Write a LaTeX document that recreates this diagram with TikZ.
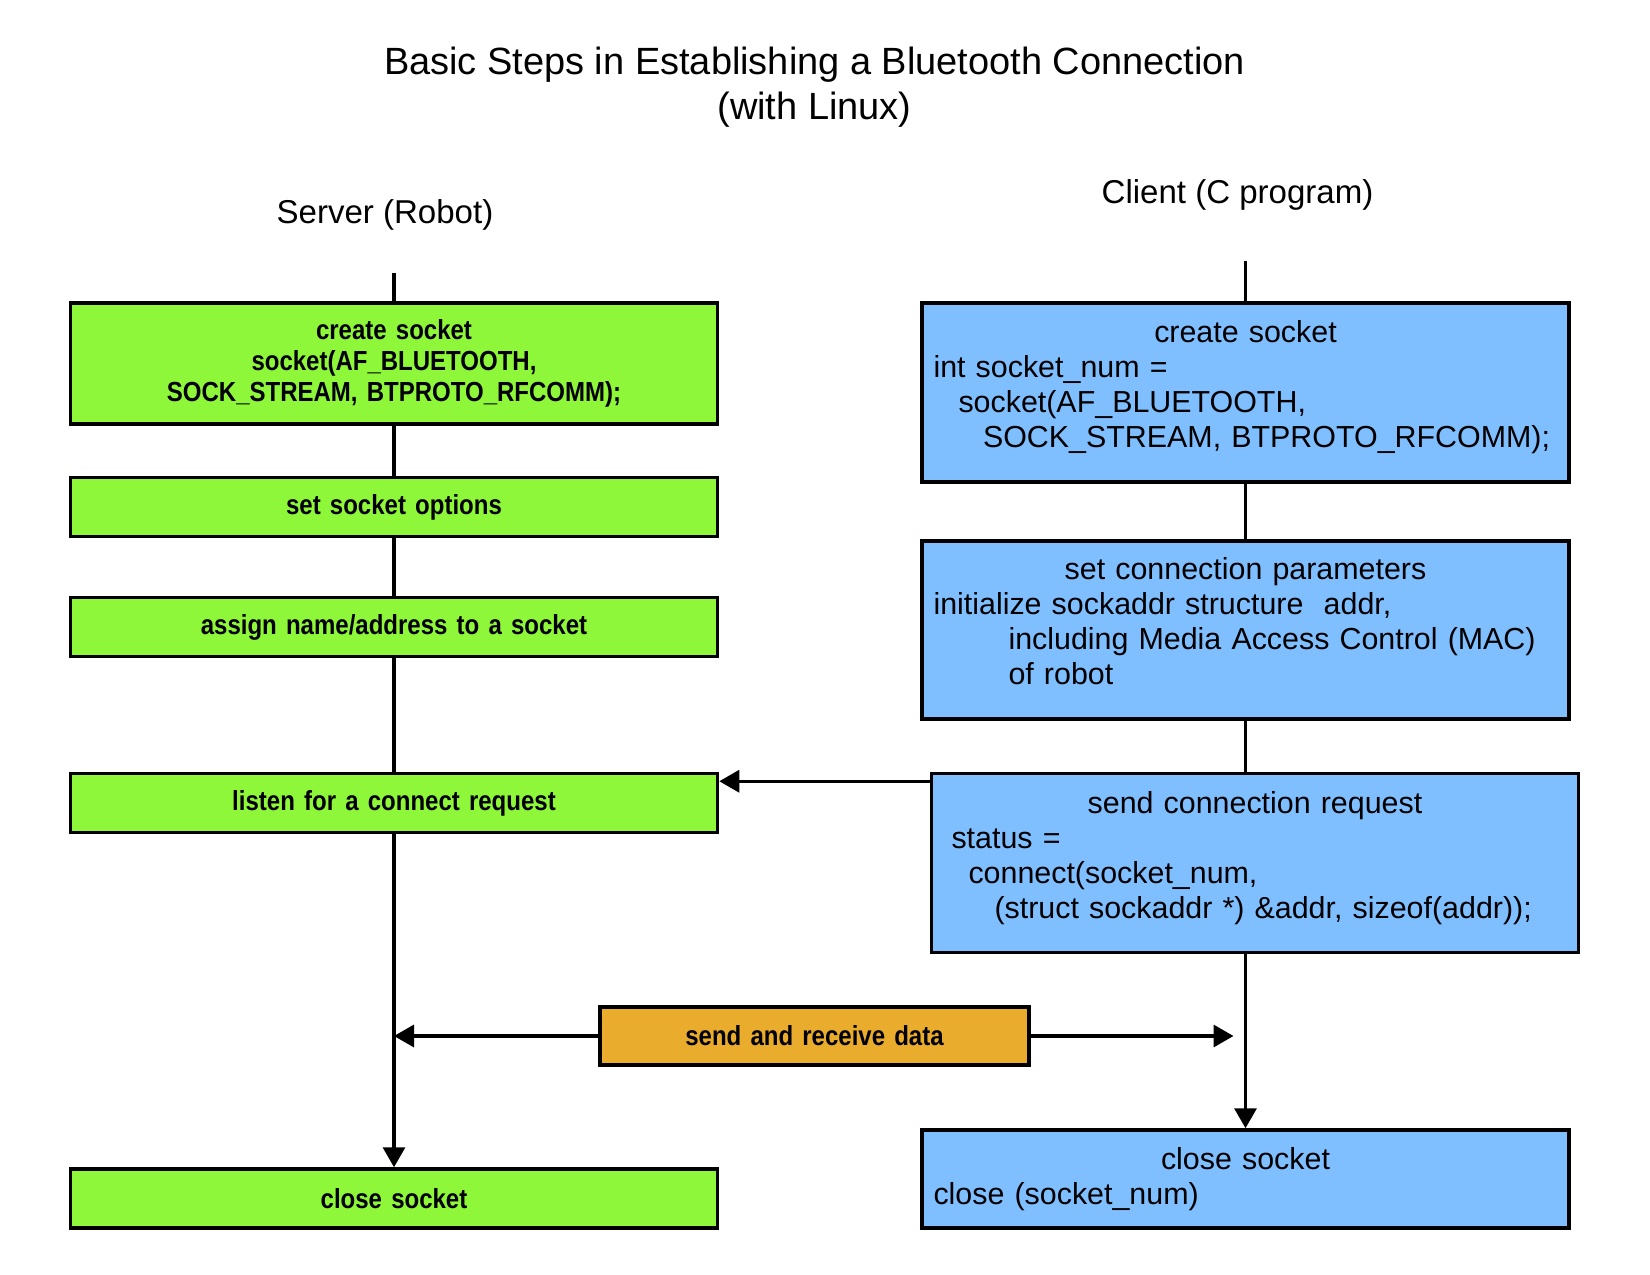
\documentclass[tikz,border=0pt]{standalone}
\usepackage{fontspec}
\setmainfont{Liberation Sans}
\newfontfamily\narrowfont[FakeStretch=0.87]{Liberation Sans}
\usetikzlibrary{arrows.meta}
\definecolor{srvgreen}{RGB}{143,247,58}
\definecolor{cliblue}{RGB}{128,191,255}
\definecolor{dataorange}{RGB}{234,172,44}
\newcommand{\headline}[1]{\parindent=0pt{\centering #1\par}\raggedright}
\newcommand{\bottomgap}[1]{\par\vspace*{#1}\hrule height 0pt}
\tikzset{
	greenbox/.style={draw, line width=2pt, fill=srvgreen, text width=12.5cm, inner xsep=0.22cm,
		align=center, minimum height=1.18cm, font=\narrowfont\bfseries\fontsize{15.7}{17.6}\selectfont},
	orangebox/.style={greenbox, fill=dataorange, text width=8.14cm, minimum height=1.16cm},
	bluebox/.style={draw, line width=2pt, fill=cliblue, text width=12.48cm, inner xsep=0.23cm,
		minimum height=3.58cm, font=\fontsize{17.3}{20}\selectfont},
	conn/.style={line width=1.9pt},
	arr/.style={line width=1.9pt, -{Triangle[length=0.4cm,width=0.44cm]}}
}
\begin{document}
\begin{tikzpicture}
	\useasboundingbox (0,0) rectangle (33,-25.5);
	% titles
	\node[align=center, font=\fontsize{21.6}{25.6}\selectfont] (title) at (16.29,-1.75)
		{Basic Steps in Establishing a Bluetooth Connection\\(with Linux)};
	\node[font=\fontsize{18.8}{22}\selectfont] (server) at (7.7,-4.3) {Server (Robot)};
	\node[font=\fontsize{18.8}{22}\selectfont] (client) at (24.75,-3.9) {Client (C program)};
	% server side
	\node[greenbox, minimum height=2.42cm] (g1) at (7.88,-7.27)
		{create socket\\socket(AF\_BLUETOOTH,\\SOCK\_STREAM, BTPROTO\_RFCOMM);};
	\node[greenbox] (g2) at (7.88,-10.14) {set socket options};
	\node[greenbox] (g3) at (7.88,-12.54) {assign name/address to a socket};
	\node[greenbox] (g4) at (7.88,-16.06) {listen for a connect request};
	\node[greenbox] (g5) at (7.88,-23.97) {close socket};
	% client side
	\node[bluebox] (b1) at (24.91,-7.85)
		{\headline{create socket}int socket\_num =\par
		\hspace*{0.5cm}socket(AF\_BLUETOOTH,\par
		\hspace*{0.99cm}SOCK\_STREAM, BTPROTO\_RFCOMM);\bottomgap{0.22cm}};
	\node[bluebox, minimum height=3.55cm] (b2) at (24.91,-12.6)
		{\headline{set connection parameters}initialize sockaddr structure\ \ addr,\par
		\hspace*{1.5cm}including Media Access Control (MAC)\par
		\hspace*{1.5cm}of robot\bottomgap{0.36cm}};
	\node[bluebox, text width=12.14cm, inner xsep=0.4cm] (b3) at (25.1,-17.26)
		{\headline{send connection request}status =\par
		\hspace*{0.34cm}connect(socket\_num,\par
		\hspace*{0.86cm}(struct sockaddr *) \&addr, sizeof(addr));\bottomgap{0.2cm}};
	\node[bluebox, minimum height=1.96cm] (b4) at (24.91,-23.58)
		{\headline{close socket}close (socket\_num)};
	\node[orangebox] (data) at (16.29,-20.72) {send and receive data};
	% connectors
	\coordinate (stop) at (7.88,-5.47);
	\coordinate (ctop) at (24.91,-5.22);
	\draw[conn] (stop) -- (g1);
	\draw[conn] (g1) -- (g2);
	\draw[conn] (g2) -- (g3);
	\draw[conn] (g3) -- (g4);
	\draw[arr] (g4) -- (g5);
	\draw[conn] (ctop) -- (b1);
	\draw[conn] (b1) -- (b2);
	\draw[conn] (b2.south) -- (b2.south |- b3.north);
	\draw[arr] (b4.north |- b3.south) -- (b4.north);
	\draw[arr] ([yshift=-0.19cm]b3.north west) -- ([yshift=-0.19cm]b3.north west -| g4.east);
	\draw[arr] (data.west) -- (data.west -| g5.north);
	\draw[arr] (data.east) -- ([xshift=-0.24cm]data.east -| b4.north);
\end{tikzpicture}
\end{document}
